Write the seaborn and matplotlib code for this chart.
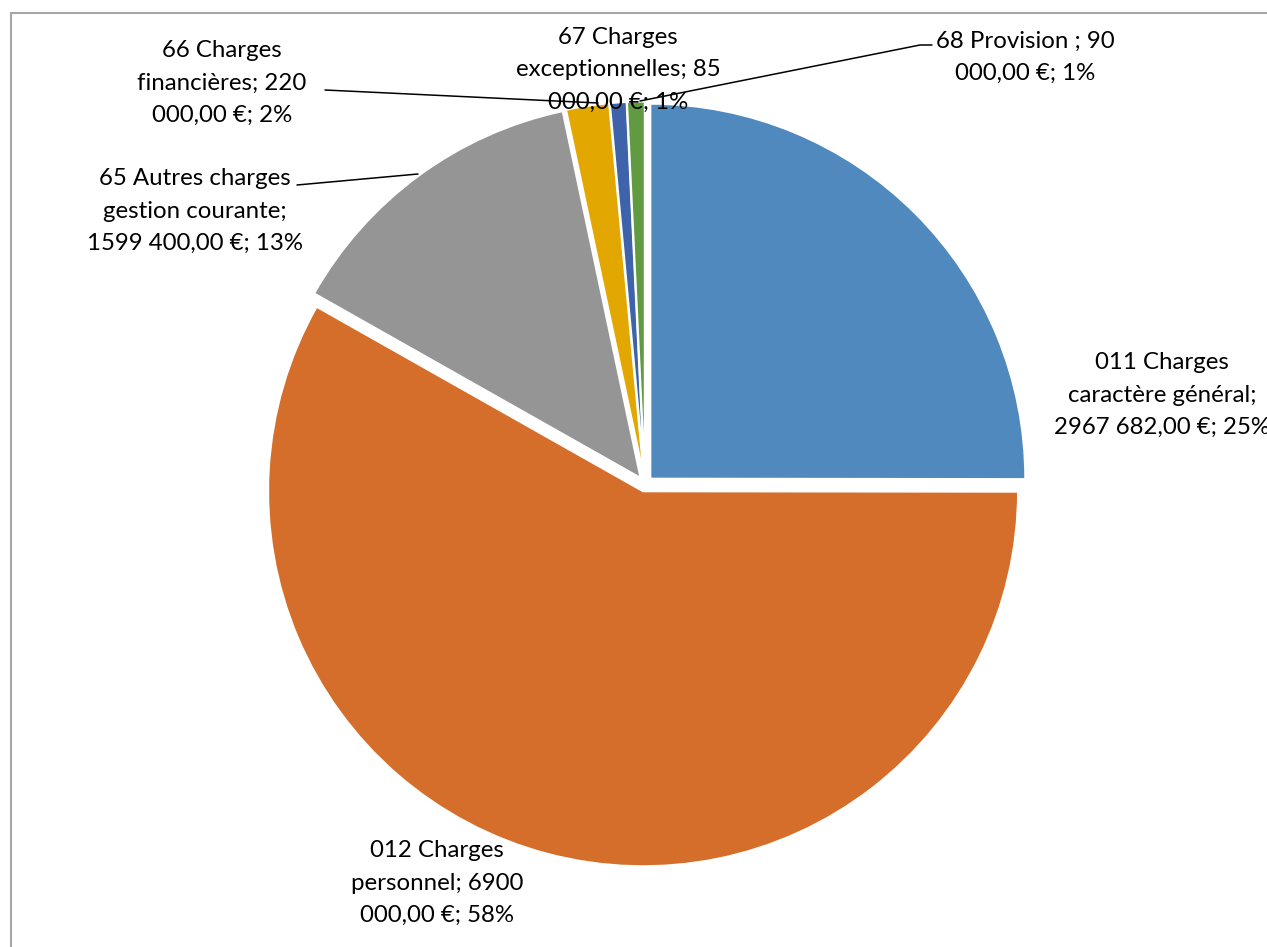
import matplotlib.pyplot as plt
import seaborn as sns
from matplotlib.patches import Rectangle

# Data
labels = [
    "011 Charges\ncaractère général;\n2967 682,00 €; 25%",
    "012 Charges\npersonnel; 6900\n000,00 €; 58%",
    "65 Autres charges\ngestion courante;\n1599 400,00 €; 13%",
    "66 Charges\nfinancières; 220\n000,00 €; 2%",
    "67 Charges\nexceptionnelles; 85\n000,00 €; 1%",
    "68 Provision ; 90\n000,00 €; 1%",
]
values = [2967682, 6900000, 1599400, 220000, 85000, 90000]
colors = ["#4F89BD", "#D46E2A", "#959595", "#E2A700", "#3E63AB", "#609B42"]

sns.set_theme(style="white")
plt.rcParams['font.family'] = ['Lato', 'DejaVu Sans']

fig = plt.figure(figsize=(12.67, 9.47), dpi=100)
# pie centre at (645, 484) px, radius 375 px
R = 375
cx, cy = 645, 484
half = 1.2 * R
ax = fig.add_axes([(cx - half) / 1267, (947 - cy - half) / 947, 2 * half / 1267, 2 * half / 947])

wedges, _ = ax.pie(values, colors=sns.color_palette(colors), startangle=90, counterclock=False,
                   explode=[0.02] * len(values),
                   wedgeprops=dict(edgecolor="white", linewidth=1.5))
ax.set_xlim(-1.2, 1.2)
ax.set_ylim(-1.2, 1.2)
ax.axis('off')

def to_data(px, py):
    return (px - cx) / R, (cy - py) / R

# label positions (px) and leader line endpoints
label_pos = [(1162, 395), (437, 883), (195, 211), (222, 83), (618, 70), (1025, 57)]
for lab, (px, py) in zip(labels, label_pos):
    x, y = to_data(px, py)
    ax.text(x, y, lab, ha='center', va='center', fontsize=17.3, color='black',
            linespacing=1.66, zorder=5, clip_on=False)

leaders = [
    [(297, 185), (418, 174)],
    [(325, 90), (598, 103)],
    [(932, 45), (920, 45), (640, 101)],
]
for pts in leaders:
    xs, ys = zip(*[to_data(p[0], p[1]) for p in pts])
    ax.plot(xs, ys, color='black', lw=1.1, zorder=4)

# outer frame (cropped on right and bottom)
fig.patches.append(Rectangle((11 / 1267, -0.05), 1.1, (947 - 13) / 947 + 0.05,
                             transform=fig.transFigure, fill=False,
                             edgecolor='#A6A6A6', lw=1.5))

fig.savefig("out.png", dpi=100)
